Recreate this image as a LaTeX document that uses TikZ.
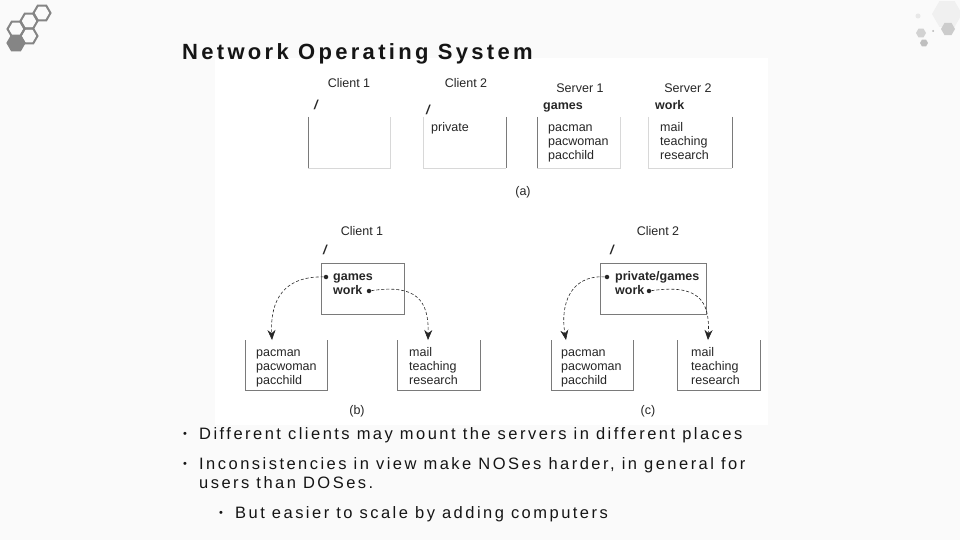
\documentclass[tikz,border=0pt]{standalone}
\usepackage{fontspec}
\setmainfont{Liberation Sans}
\usetikzlibrary{arrows.meta,shapes.geometric}
\definecolor{txt}{HTML}{151515}
\definecolor{figtxt}{HTML}{262626}
\definecolor{boxgray}{HTML}{7A7A7A}
\definecolor{boxlight}{HTML}{D8D8D8}
\definecolor{pagebg}{HTML}{FAFAFA}
\definecolor{hexgray}{HTML}{858585}
\tikzset{
  lbl/.style={font=\fontsize{12.5}{14}\selectfont, text=figtxt, inner sep=0pt, anchor=base west},
  lblc/.style={lbl, anchor=base},
  mnt/.style={lbl, font=\fontsize{12.5}{14}\selectfont\bfseries},
  slashlbl/.style={lbl, font=\fontsize{13}{14}\selectfont\bfseries\itshape},
  bx/.style={draw=boxgray, line width=0.9pt},
  faint/.style={draw=boxlight, line width=0.8pt},
  mountarrow/.style={draw=figtxt, line width=0.6pt, dash pattern=on 3pt off 2pt,
     -{Stealth[length=10pt,width=8pt]}},
  mdot/.style={circle, fill=figtxt, inner sep=0pt, minimum size=4.5pt},
  bul/.style={font=\fontsize{16.5}{18}\selectfont\addfontfeature{LetterSpace=15}, text=txt, inner sep=0pt, anchor=base west},
  bulmark/.style={font=\fontsize{11}{12}\selectfont, text=txt, inner sep=0pt, anchor=base west},
  hexo/.style={regular polygon, regular polygon sides=6, draw=hexgray, line width=2pt, minimum size=17pt, inner sep=0pt},
  hexf/.style={hexo, fill=hexgray},
}
\begin{document}
\begin{tikzpicture}[x=1pt,y=-1pt]
\useasboundingbox (0,0) rectangle (960,540);
\fill[pagebg] (0,0) rectangle (960,540);
\fill[white] (215,58) rectangle (768,425);

% top-left logo
\node[hexo] (hx1) at (42,13) {};
\node[hexo] (hx2) at (29,21) {};
\node[hexo] (hx3) at (16,29) {};
\node[hexo] (hx4) at (29,36) {};
\node[hexf] (hx5) at (16,43) {};

% top-right decoration
\node[regular polygon, regular polygon sides=6, fill=gray!12, minimum size=30pt, inner sep=0pt] (tr1) at (947,14) {};
\node[regular polygon, regular polygon sides=6, fill=gray!40, minimum size=14pt, inner sep=0pt] (tr2) at (948,29) {};
\node[regular polygon, regular polygon sides=6, fill=gray!35, minimum size=10pt, inner sep=0pt] (tr3) at (921,33) {};
\node[regular polygon, regular polygon sides=6, fill=gray!50, minimum size=8pt, inner sep=0pt] (tr4) at (924,43) {};
\node[circle, fill=gray!60, minimum size=2pt, inner sep=0pt] (tr5) at (933,31) {};
\node[circle, fill=gray!18, minimum size=5pt, inner sep=0pt] (tr6) at (918,16) {};

% title
\node[font=\fontsize{22}{24}\selectfont\bfseries\addfontfeature{LetterSpace=15}, text=txt, inner sep=0pt, anchor=base west] (title) at (182,60) {Network Operating System};

% ---------- (a) ----------
\node[lblc] (ac1) at (349,88) {Client 1};
\node[lblc] (ac2) at (466,88) {Client 2};
\node[lblc] (as1) at (580,93) {Server 1};
\node[lblc] (as2) at (688,93) {Server 2};
\node[slashlbl] (asl1) at (314,110) {/};
\node[slashlbl] (asl2) at (426,115) {/};
\node[lbl] (apriv) at (431,132) {private};
\node[mnt] (agames) at (543,110) {games};
\node[mnt] (awork) at (655,110) {work};
\foreach \t [count=\i] in {pacman,pacwoman,pacchild}
  \node[lbl] (apac\i) at (548,118+13.8*\i) {\t};
\foreach \t [count=\i] in {mail,teaching,research}
  \node[lbl] (amail\i) at (660,118+13.8*\i) {\t};
\node[lblc] (alab) at (523,195) {(a)};
% boxes (a)
\draw[faint] (308,168) -- (390,168) -- (390,117);
\draw[bx] (308,117) -- (308,168);
\draw[faint] (423,117) -- (423,168) -- (506,168);
\draw[bx] (506,117) -- (506,168);
\draw[faint] (537,168) -- (620,168) -- (620,117);
\draw[bx] (537,117) -- (537,168);
\draw[faint] (648,117) -- (648,168) -- (732,168);
\draw[bx] (732,117) -- (732,168);

% ---------- (b) ----------
\node[lblc] (bc1) at (362,235.5) {Client 1};
\node[slashlbl] (bsl) at (323,254) {/};
\draw[bx] (321,263) rectangle (404,314);
\node[mnt] (bgames) at (333,280.5) {games};
\node[mnt] (bwork) at (333,294.5) {work};
\node[mdot] (bd1) at (326,277) {};
\node[mdot] (bd2) at (369,291) {};
\draw[bx] (245,340) -- (245,390) -- (327,390) -- (327,340);
\draw[bx] (397,340) -- (397,390) -- (480,390) -- (480,340);
\foreach \t [count=\i] in {pacman,pacwoman,pacchild}
  \node[lbl] (bpac\i) at (256,342+14*\i) {\t};
\foreach \t [count=\i] in {mail,teaching,research}
  \node[lbl] (bmail\i) at (409,342+14*\i) {\t};
\coordinate (bt1) at (272,340);
\coordinate (bt2) at (428,340);
\draw[mountarrow] (bd1) .. controls (284,276) and (270,300) .. (bt1);
\draw[mountarrow] (bd2) .. controls (416,284) and (429,300) .. (bt2);
\node[lblc] (blab) at (357,414) {(b)};

% ---------- (c) ----------
\node[lblc] (cc2) at (658,235.5) {Client 2};
\node[slashlbl] (csl) at (610,254) {/};
\draw[bx] (600,263) rectangle (706,314);
\node[mnt] (cpg) at (615,280.5) {private/games};
\node[mnt] (cwork) at (615,294.5) {work};
\node[mdot] (cd1) at (607,277) {};
\node[mdot] (cd2) at (649,291) {};
\draw[bx] (551,340) -- (551,390) -- (633,390) -- (633,340);
\draw[bx] (677,340) -- (677,390) -- (760,390) -- (760,340);
\foreach \t [count=\i] in {pacman,pacwoman,pacchild}
  \node[lbl] (cpac\i) at (561,342+14*\i) {\t};
\foreach \t [count=\i] in {mail,teaching,research}
  \node[lbl] (cmail\i) at (691,342+14*\i) {\t};
\coordinate (ct1) at (566,340);
\coordinate (ct2) at (708,340);
\draw[mountarrow] (cd1) .. controls (570,275) and (560,305) .. (ct1);
\draw[mountarrow] (cd2) .. controls (698,284) and (710,300) .. (ct2);
\node[lblc] (clab) at (648,414) {(c)};

% ---------- bullets ----------
\node[bulmark] (m1) at (183,437) {•};
\node[bul] (l1) at (199,439) {Different clients may mount the servers in different places};
\node[bulmark] (m2) at (183,467) {•};
\node[bul] (l2) at (199,469) {Inconsistencies in view make NOSes harder, in general for};
\node[bul] (l3) at (199,488) {users than DOSes.};
\node[bulmark] (m3) at (219,516) {•};
\node[bul] (l4) at (235,518) {But easier to scale by adding computers};
\end{tikzpicture}
\end{document}
